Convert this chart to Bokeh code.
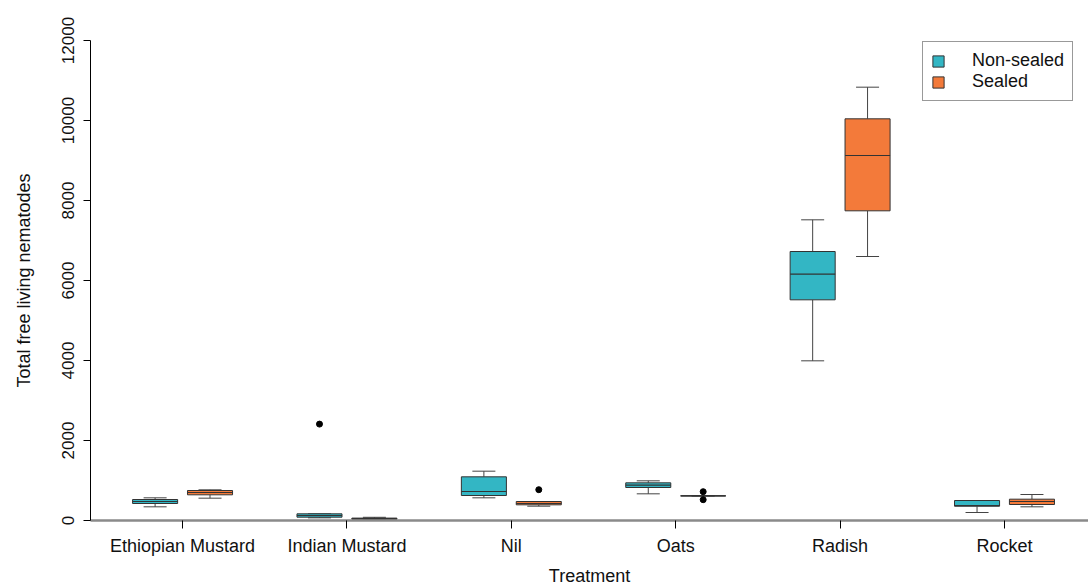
from bokeh.plotting import figure
from bokeh.models import FixedTicker, Range1d, Legend, LegendItem, ColumnDataSource
from bokeh.embed import file_html
from bokeh.resources import INLINE

treatments = ["Ethiopian Mustard", "Indian Mustard", "Nil", "Oats", "Radish", "Rocket"]

# Non-sealed series (box statistics)
ns_low = [342, 67, 567, 667, 3992, 200]
ns_q1 = [425, 83, 625, 825, 5517, 358]
ns_med = [475, 125, 725, 883, 6158, 372]
ns_q3 = [525, 167, 1092, 942, 6725, 500]
ns_high = [567, 167, 1233, 992, 7517, 500]
ns_out_cat = ["Indian Mustard"]
ns_out_val = [2410]

# Sealed series (box statistics)
s_low = [558, 20, 358, 617, 6600, 342]
s_q1 = [642, 30, 392, 617, 7742, 400]
s_med = [700, 45, 425, 617, 9125, 475]
s_q3 = [750, 60, 475, 617, 10042, 533]
s_high = [767, 80, 475, 617, 10833, 650]
s_out_cat = ["Nil", "Oats", "Oats"]
s_out_val = [770, 720, 520]

series_names = ["Non-sealed", "Sealed"]
colors = ["#33B6C4", "#F37A3A"]

FONT = "Liberation Sans"
BOX_W = 0.274
OFFSET = 0.167
CAP_W = 0.14

p = figure(width=1088, height=588, output_backend="svg", toolbar_location=None,
           x_range=Range1d(0.44, 6.511), y_range=Range1d(0, 12000),
           min_border_left=90, min_border_top=40, min_border_right=0, min_border_bottom=68)
p.xgrid.visible = False
p.ygrid.visible = False
p.outline_line_color = None
p.background_fill_color = "white"

legend_items = []
series = [
    (ns_low, ns_q1, ns_med, ns_q3, ns_high, ns_out_cat, ns_out_val, -OFFSET),
    (s_low, s_q1, s_med, s_q3, s_high, s_out_cat, s_out_val, OFFSET),
]
for (lo, q1, med, q3, hi, oc, ov, off), name, col in zip(series, series_names, colors):
    xs = [i + 1 + off for i in range(len(treatments))]
    src = ColumnDataSource(dict(
        x=xs, lo=lo, q1=q1, med=med, q3=q3, hi=hi,
        left=[x - BOX_W / 2 for x in xs], right=[x + BOX_W / 2 for x in xs],
        cl=[x - CAP_W / 2 for x in xs], cr=[x + CAP_W / 2 for x in xs],
    ))
    # whiskers
    p.segment(x0="x", y0="q3", x1="x", y1="hi", source=src, line_color="#444444", line_width=1)
    p.segment(x0="x", y0="q1", x1="x", y1="lo", source=src, line_color="#444444", line_width=1)
    p.segment(x0="cl", y0="hi", x1="cr", y1="hi", source=src, line_color="#444444", line_width=1)
    p.segment(x0="cl", y0="lo", x1="cr", y1="lo", source=src, line_color="#444444", line_width=1)
    # boxes
    r = p.quad(left="left", right="right", bottom="q1", top="q3", source=src,
               fill_color=col, line_color="#333333", line_width=1)
    p.segment(x0="left", y0="med", x1="right", y1="med", source=src, line_color="#333333", line_width=1.2)
    # outliers
    ox = [treatments.index(c) + 1 + off for c in oc]
    p.scatter(ox, ov, size=6, fill_color="black", line_color="black")
    legend_items.append(LegendItem(label=name, renderers=[r]))

legend = Legend(items=legend_items, location=(832, 419))
legend.label_text_font = FONT
legend.label_text_font_size = "18px"
legend.label_text_color = "#111111"
legend.glyph_width = 14
legend.glyph_height = 14
legend.label_height = 20
legend.spacing = 0
legend.padding = 8
legend.margin = 0
legend.label_standoff = 27
legend.border_line_color = "#333333"
legend.border_line_width = 1
legend.background_fill_alpha = 1
p.add_layout(legend)

# x axis
p.xaxis.ticker = FixedTicker(ticks=list(range(1, len(treatments) + 1)))
p.xaxis.major_label_overrides = {i + 1: t for i, t in enumerate(treatments)}
p.xaxis.axis_label = "Treatment"
p.xaxis.axis_line_color = "#8a8a8a"
p.xaxis.axis_line_width = 2.5
p.xaxis.major_tick_line_color = "black"
p.xaxis.major_tick_out = 8
p.xaxis.major_tick_in = 0
p.xaxis.minor_tick_line_color = None
p.xaxis.major_label_standoff = 7
p.xaxis.axis_label_standoff = 7
p.xaxis.major_label_text_font = FONT
p.xaxis.major_label_text_font_size = "18px"
p.xaxis.major_label_text_color = "#111111"
p.xaxis.axis_label_text_font = FONT
p.xaxis.axis_label_text_font_size = "18px"
p.xaxis.axis_label_text_font_style = "normal"
p.xaxis.axis_label_text_color = "#111111"

# y axis
p.yaxis.ticker = FixedTicker(ticks=[0, 2000, 4000, 6000, 8000, 10000, 12000])
p.yaxis.axis_label = "Total free living nematodes"
p.yaxis.axis_line_color = "black"
p.yaxis.major_tick_line_color = "black"
p.yaxis.major_tick_out = 7
p.yaxis.major_tick_in = 0
p.yaxis.minor_tick_line_color = None
p.yaxis.major_label_orientation = "vertical"
p.yaxis.major_label_standoff = 10
p.yaxis.axis_label_standoff = 25
p.yaxis.major_label_text_font = FONT
p.yaxis.major_label_text_font_size = "17px"
p.yaxis.major_label_text_color = "#111111"
p.yaxis.axis_label_text_font = FONT
p.yaxis.axis_label_text_font_size = "18px"
p.yaxis.axis_label_text_font_style = "normal"
p.yaxis.axis_label_text_color = "#111111"

open("out.html", "w").write(file_html(p, INLINE))
